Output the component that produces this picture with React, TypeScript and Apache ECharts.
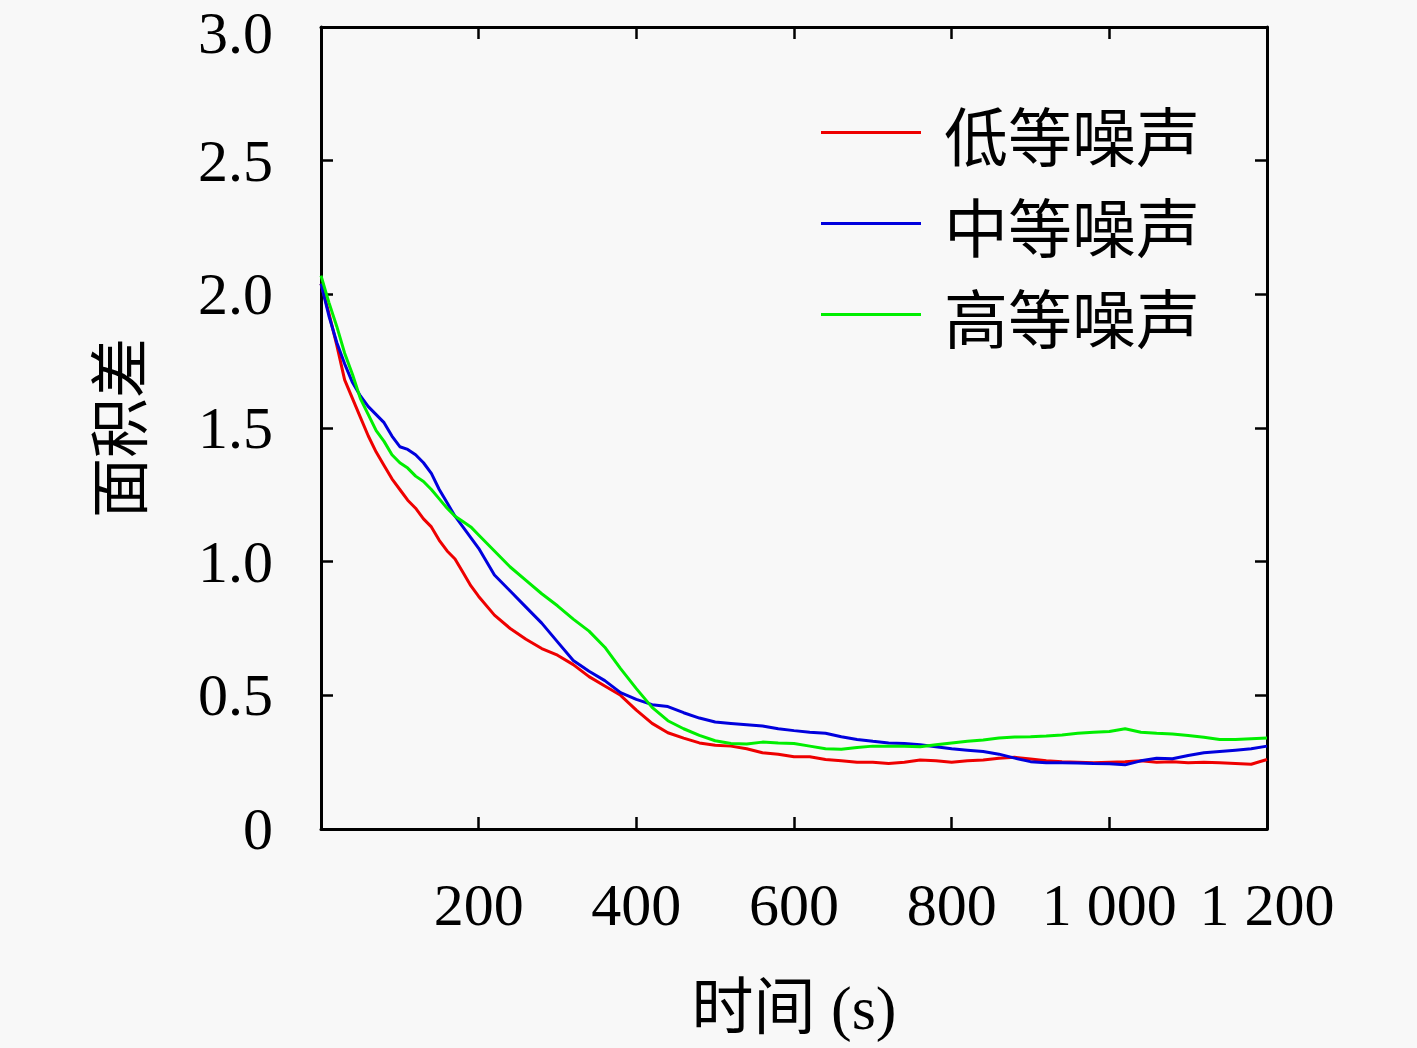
import React, { useEffect, useRef } from "react";
import * as echarts from "echarts";

const xValues = [
  0, 10, 20, 30, 40, 50, 60, 70, 80, 90, 100, 110, 120, 130, 140, 150, 160, 170, 180, 190, 200,
  220, 240, 260, 280, 300, 320, 340, 360, 380, 400, 420, 440, 460, 480, 500, 520, 540, 560, 580,
  600, 620, 640, 660, 680, 700, 720, 740, 760, 780, 800, 820, 840, 860, 880, 900, 920, 940, 960,
  980, 1000, 1020, 1040, 1060, 1080, 1100, 1120, 1140, 1160, 1180, 1200,
];

const lowNoise = [
  2.04, 1.93, 1.81, 1.68, 1.61, 1.54, 1.47, 1.41, 1.36, 1.31, 1.27, 1.23, 1.2, 1.16, 1.13, 1.08, 1.04,
  1.01, 0.96, 0.91, 0.87, 0.8, 0.75, 0.71, 0.675, 0.65, 0.615, 0.57, 0.535, 0.5, 0.445, 0.395, 0.36,
  0.34, 0.322, 0.313, 0.31, 0.3, 0.285, 0.28, 0.27, 0.27, 0.26, 0.255, 0.25, 0.25, 0.245, 0.25, 0.258,
  0.255, 0.25, 0.255, 0.258, 0.265, 0.268, 0.262, 0.255, 0.252, 0.25, 0.248, 0.25, 0.252, 0.255, 0.25,
  0.252, 0.248, 0.25, 0.248, 0.245, 0.242, 0.26,
];

const midNoise = [
  2.04, 1.92, 1.82, 1.74, 1.67, 1.62, 1.58, 1.55, 1.52, 1.47, 1.43, 1.42, 1.4, 1.37, 1.33, 1.27, 1.22,
  1.17, 1.13, 1.09, 1.05, 0.95, 0.89, 0.83, 0.77, 0.7, 0.63, 0.59, 0.555, 0.51, 0.485, 0.465, 0.458,
  0.435, 0.415, 0.4, 0.395, 0.39, 0.385, 0.375, 0.368, 0.362, 0.358, 0.345, 0.335, 0.328, 0.322, 0.32,
  0.315, 0.308, 0.3, 0.295, 0.29, 0.28, 0.265, 0.252, 0.248, 0.248, 0.247, 0.245, 0.244, 0.24, 0.255,
  0.265, 0.263, 0.275, 0.285, 0.29, 0.295, 0.3, 0.31,
];

const highNoise = [
  2.07, 1.97, 1.88, 1.78, 1.7, 1.61, 1.55, 1.49, 1.45, 1.4, 1.37, 1.35, 1.32, 1.3, 1.27, 1.235, 1.2,
  1.17, 1.15, 1.13, 1.1, 1.04, 0.98, 0.93, 0.88, 0.835, 0.785, 0.74, 0.68, 0.6, 0.525, 0.455, 0.405,
  0.375, 0.35, 0.33, 0.32, 0.318, 0.325, 0.322, 0.32, 0.31, 0.3, 0.298, 0.305, 0.31, 0.31, 0.31, 0.308,
  0.315, 0.322, 0.328, 0.333, 0.34, 0.344, 0.345, 0.348, 0.352, 0.358, 0.362, 0.365, 0.375, 0.362,
  0.358, 0.355, 0.35, 0.343, 0.335, 0.335, 0.338, 0.34,
];

const seriesNames = ["低等噪声", "中等噪声", "高等噪声"];
const seriesColors = ["#ee0000", "#0000dd", "#00ee00"];
const seriesData = [lowNoise, midNoise, highNoise];

const xTitle = "时间 (s)";
const yTitle = "面积差";

const serif = "'Liberation Serif', 'Noto Sans CJK SC', serif";

function fmtX(v: number): string {
  if (v === 0) return "";
  if (v >= 1000) {
    const s = String(v);
    return s.slice(0, s.length - 3) + " " + s.slice(s.length - 3);
  }
  return String(v);
}

function fmtY(v: number): string {
  if (v === 0) return "0";
  if (v >= 3) return "{top|" + v.toFixed(1) + "}";
  return v.toFixed(1);
}

function makeAxisLine() {
  return { show: true, onZero: false, lineStyle: { color: "#000", width: 3 } };
}
function makeAxisTick() {
  return { show: true, inside: true, length: 12, lineStyle: { color: "#000", width: 2.5 } };
}

export default function App() {
  const ref = useRef<HTMLDivElement>(null);

  useEffect(() => {
    document.body.style.margin = "0";
    if (!ref.current) return;
    const chart = echarts.init(ref.current, undefined, { renderer: "svg" });

    chart.setOption({
      animation: false,
      backgroundColor: "#f8f8f8",
      grid: { left: 321, right: 150, top: 27, bottom: 219, containLabel: false },
      legend: {
        show: true,
        data: seriesNames,
        orient: "vertical",
        left: 816,
        top: 82,
        icon: "rect",
        itemWidth: 100,
        itemHeight: 3,
        itemGap: 0,
        textStyle: {
          fontFamily: "'Noto Sans CJK SC', sans-serif",
          fontSize: 64,
          color: "#000",
          lineHeight: 91,
          padding: [0, 0, 0, 18],
        },
      },
      xAxis: [
        {
          type: "value",
          min: 0,
          max: 1200,
          interval: 200,
          position: "bottom",
          name: xTitle,
          nameLocation: "middle",
          nameGap: 148,
          nameTextStyle: { fontFamily: serif, fontSize: 62, color: "#000" },
          axisLine: makeAxisLine(),
          axisTick: makeAxisTick(),
          splitLine: { show: false },
          axisLabel: {
            formatter: fmtX,
            fontFamily: serif,
            fontSize: 60,
            color: "#000",
            margin: 46,
          },
        },
        {
          type: "value",
          min: 0,
          max: 1200,
          interval: 200,
          position: "top",
          axisLine: makeAxisLine(),
          axisTick: makeAxisTick(),
          splitLine: { show: false },
          axisLabel: { show: false },
        },
      ],
      yAxis: [
        {
          type: "value",
          min: 0,
          max: 3,
          interval: 0.5,
          position: "left",
          name: yTitle,
          nameLocation: "middle",
          nameGap: 176,
          nameTextStyle: { fontFamily: "'Noto Sans CJK SC', sans-serif", fontSize: 60, color: "#000" },
          axisLine: makeAxisLine(),
          axisTick: makeAxisTick(),
          splitLine: { show: false },
          axisLabel: {
            formatter: fmtY,
            fontFamily: serif,
            fontSize: 60,
            color: "#000",
            margin: 48,
            rich: {
              top: {
                fontFamily: serif,
                fontSize: 60,
                color: "#000",
                padding: [12, 0, 0, 0],
              },
            },
          },
        },
        {
          type: "value",
          min: 0,
          max: 3,
          interval: 0.5,
          position: "right",
          axisLine: makeAxisLine(),
          axisTick: makeAxisTick(),
          splitLine: { show: false },
          axisLabel: { show: false },
        },
      ],
      series: seriesNames.map((name, i) => ({
        name,
        type: "line",
        xAxisIndex: 0,
        yAxisIndex: 0,
        data: xValues.map((x, j) => [x, seriesData[i][j]]),
        symbol: "none",
        smooth: false,
        color: seriesColors[i],
        itemStyle: { color: seriesColors[i] },
        lineStyle: { color: seriesColors[i], width: 3 },
      })),
    });

    return () => chart.dispose();
  }, []);

  return <div ref={ref} style={{ width: 1417, height: 1048 }} />;
}
